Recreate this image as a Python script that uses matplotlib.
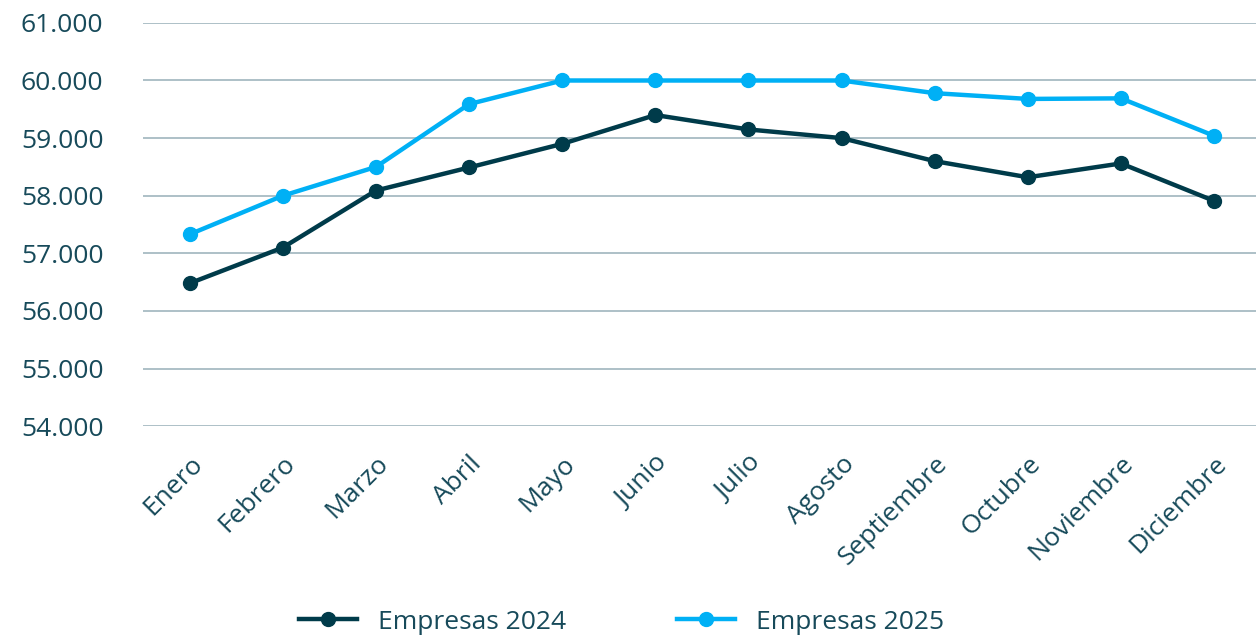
import matplotlib.pyplot as plt
from matplotlib.ticker import FuncFormatter

meses = ["Enero", "Febrero", "Marzo", "Abril", "Mayo", "Junio", "Julio",
         "Agosto", "Septiembre", "Octubre", "Noviembre", "Diciembre"]

empresas_2024 = [56480, 57100, 58090, 58490, 58900, 59400, 59150,
                 59000, 58600, 58320, 58560, 57910]
empresas_2025 = [57330, 58000, 58500, 59590, 60000, 60000, 60000,
                 60000, 59780, 59680, 59690, 59040]

texto = "#174a5a"
oscuro = "#003b4a"
claro = "#00b0f5"

plt.rcParams["font.family"] = ["Open Sans", "DejaVu Sans"]

fig = plt.figure(figsize=(12.56, 6.36), dpi=100)
ax = fig.add_axes([0.114, 0.330, 0.886, 0.634])

x = range(len(meses))
ax.plot(x, empresas_2024, color=oscuro, linewidth=3.2, marker="o",
        markersize=10, label="Empresas 2024", zorder=3)
ax.plot(x, empresas_2025, color=claro, linewidth=3.2, marker="o",
        markersize=10, label="Empresas 2025", zorder=3)

ax.set_ylim(54000, 61000)
ax.set_xlim(-0.5, 11.45)
ax.set_yticks(range(54000, 61001, 1000))
ax.yaxis.set_major_formatter(FuncFormatter(lambda v, p: f"{v:,.0f}".replace(",", ".")))
ax.grid(axis="y", color="#9fb5be", linewidth=1.2)
ax.set_axisbelow(True)
for s in ax.spines.values():
    s.set_visible(False)

ax.set_xticks(list(x))
ax.set_xticklabels(meses, rotation=45, ha="right", rotation_mode="anchor")
ax.tick_params(axis="both", length=0, labelsize=19, labelcolor=texto)
ax.tick_params(axis="y", pad=88)
ax.tick_params(axis="x", pad=18)
for lbl in ax.get_yticklabels():
    lbl.set_horizontalalignment("left")

fig.legend(loc="lower center", bbox_to_anchor=(0.495, -0.035), ncol=2,
           frameon=False, fontsize=19, labelcolor=texto, columnspacing=4.2,
           handlelength=2.2, handletextpad=0.8)

fig.savefig("out.png", dpi=100)
